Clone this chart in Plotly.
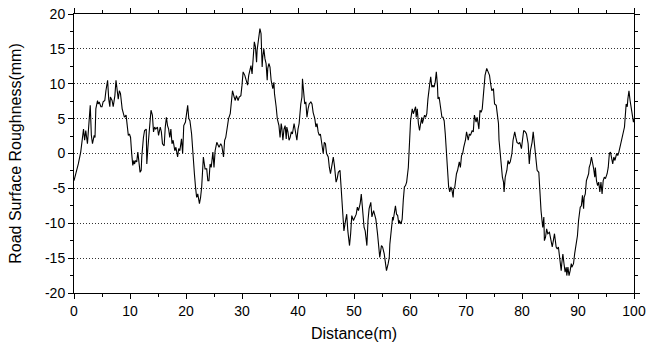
import plotly.graph_objects as go

distance_m = [
    0, 0.36, 0.77, 1.2, 1.4, 1.7, 1.9, 2.1, 2.4, 2.6, 2.9, 3.1, 3.3, 3.6, 3.75, 3.9, 4.2, 4.3, 4.5, 4.8,
    5.0, 5.2, 5.5, 5.7, 6.0, 6.2, 6.4, 6.5, 6.8, 7.0, 7.3, 7.5, 7.7, 7.9, 8.1, 8.3, 8.6, 8.8, 9.0, 9.3,
    9.5, 9.7, 9.9, 10.1, 10.3, 10.5, 10.7, 10.8, 11.0, 11.2, 11.4, 11.7, 11.8, 12.0, 12.1, 12.4, 12.6, 12.9, 13.0, 13.2,
    13.5, 13.75, 14.0, 14.2, 14.4, 14.6, 14.9, 15.1, 15.4, 15.6, 15.8, 16.1, 16.3, 16.5, 16.7, 16.9, 17.1, 17.3, 17.5, 17.7,
    18.0, 18.2, 18.5, 18.7, 18.9, 19.2, 19.4, 19.6, 19.9, 20.1, 20.3, 20.5, 20.7, 21.0, 21.2, 21.4, 21.5, 21.7, 21.9, 22.1,
    22.4, 22.6, 22.8, 23.1, 23.4, 23.7, 23.9, 24.1, 24.3, 24.5, 24.8, 25.0, 25.2, 25.5, 25.7, 25.9, 26.2, 26.4, 26.7, 26.9,
    27.1, 27.4, 27.6, 27.9, 28.1, 28.3, 28.6, 28.8, 29.0, 29.3, 29.5, 29.8, 30.0, 30.2, 30.5, 30.7, 31.0, 31.2, 31.4, 31.6,
    31.8, 32.0, 32.2, 32.4, 32.6, 32.7, 33.0, 33.2, 33.4, 33.6, 33.7, 33.9, 34.1, 34.3, 34.5, 34.6, 34.8, 35.0, 35.2, 35.5,
    35.7, 35.8, 36.1, 36.3, 36.6, 36.8, 37.0, 37.1, 37.3, 37.5, 37.7, 37.9, 38.0, 38.2, 38.4, 38.6, 38.8, 39.0, 39.3, 39.5,
    39.8, 40.0, 40.2, 40.5, 40.7, 40.8, 41.0, 41.2, 41.4, 41.6, 41.8, 42.0, 42.3, 42.5, 42.7, 43.0, 43.2, 43.4, 43.6, 43.8,
    44.0, 44.3, 44.5, 44.7, 44.9, 45.1, 45.4, 45.6, 45.8, 46.1, 46.3, 46.5, 46.8, 47.0, 47.2, 47.5,
    47.7, 47.9, 48.2, 48.5, 48.7, 48.9, 49.2, 49.4, 49.6, 49.9, 50.1, 50.4, 50.6, 50.8, 51.1, 51.3, 51.5, 51.8, 52.0, 52.3,
    52.5, 52.7, 53.0, 53.2, 53.5, 53.7, 53.9, 54.2, 54.4, 54.6, 54.9, 55.1, 55.4, 55.6, 55.8, 56.1, 56.3, 56.4, 56.7, 56.9,
    57.0, 57.2, 57.4, 57.6, 57.8, 58.0, 58.1, 58.4, 58.6, 58.8, 59.0, 59.2, 59.4, 59.7, 59.9, 60.1, 60.4, 60.6, 60.8, 61.0,
    61.1, 61.3, 61.5, 61.7, 61.9, 62.1, 62.2, 62.4, 62.6, 62.8, 63.0, 63.2, 63.3, 63.5, 63.7, 63.9, 64.1, 64.3, 64.5, 64.7,
    64.9, 65.0, 65.2, 65.5, 65.7, 65.9, 66.1, 66.3, 66.5, 66.7, 66.9, 67.1, 67.3, 67.5, 67.7, 67.8, 68.0, 68.3, 68.5, 68.8,
    69.0, 69.2, 69.4, 69.6, 69.9, 70.1, 70.4, 70.6, 70.8, 71.1, 71.3, 71.5, 71.8, 72.0, 72.3, 72.5,
    72.7, 72.9, 73.2, 73.4, 73.7, 73.9, 74.2, 74.4, 74.6, 74.9, 75.1, 75.4, 75.6, 75.8, 75.9, 76.1, 76.3, 76.5, 76.7, 76.8,
    77.0, 77.3, 77.5, 77.7, 77.9, 78.2, 78.4, 78.7, 78.9, 79.1, 79.4, 79.6, 79.9, 80.1, 80.3, 80.6, 80.8, 81.1, 81.3, 81.5,
    81.8, 82.0, 82.2, 82.5, 82.7, 83.0, 83.2, 83.4, 83.7, 83.9, 84.0, 84.2, 84.4, 84.6, 84.9, 85.1, 85.4, 85.6, 85.8, 86.1,
    86.3, 86.5, 86.8, 87.0, 87.1, 87.3, 87.5, 87.7, 87.9, 88.0, 88.2, 88.4, 88.6, 88.8, 88.9, 89.2, 89.4, 89.6, 89.9, 90.1,
    90.4, 90.6, 90.8, 91.0, 91.1, 91.3, 91.5, 91.7, 91.9, 92.0, 92.2, 92.4, 92.6, 92.8, 93.0, 93.1, 93.3, 93.5, 93.7, 93.9,
    94.1, 94.3, 94.5, 94.7, 94.9, 95.2, 95.4, 95.6, 95.8, 96.0, 96.2, 96.4, 96.6, 96.9, 97.1, 97.3, 97.6, 97.9, 98.1, 98.3,
    98.6, 98.8, 98.9, 99.1, 99.3, 99.5, 99.7, 99.9, 100.0,
]

roughness_mm = [
    -3.9, -2.9, -1.5, 0.2, 1.4, 3.5, 1.9, 3.3, 1.4, 4.3, 6.9, 2.6, 1.4, 2.6, 2.3, 6.4, 7.6, 7.1, 7.4, 6.7,
    6.7, 7.4, 7.6, 9.0, 10.5, 7.8, 6.7, 8.1, 7.6, 6.7, 8.3, 10.5, 9.3, 7.8, 9.0, 8.6, 6.4, 5.9, 5.2, 5.5,
    4.3, 2.6, 2.8, 2.3, 0.0, -1.7, -1.0, -1.5, -1.0, -1.2, 0.2, -1.5, -2.7, -2.4, -0.5, 2.3, 3.3, 3.5, -1.5, 0.9,
    3.8, 6.2, 5.5, 3.1, 3.8, 3.5, 3.8, 2.6, 3.8, 3.1, 1.4, 1.1, 3.8, 5.2, 4.0, 3.5, 2.3, 3.5, 1.4, 1.9,
    0.4, 0.9, -0.5, 0.7, 0.4, 2.1, 0.0, 4.0, 4.5, 5.7, 6.9, 5.0, 4.7, 2.8, 0.0, -1.5, -2.9, -4.8, -6.3, -5.8,
    -7.2, -6.3, -4.8, -0.5, -2.2, -2.2, -3.9, -3.9, -1.5, -2.0, 0.2, -2.0, 0.4, 1.6, 1.1, 0.9, 1.4, 1.1, -0.5, 1.9,
    2.3, 3.8, 5.0, 5.7, 7.1, 9.0, 8.1, 7.6, 8.3, 7.6, 8.1, 8.3, 9.8, 11.7, 11.2, 10.7, 9.8, 11.2, 11.9, 12.6,
    11.4, 13.8, 16.0, 15.3, 13.1, 14.8, 16.7, 17.9, 17.2, 12.4, 13.8, 15.0, 13.6, 12.9, 10.5, 12.2, 12.9, 12.4, 10.5, 9.3,
    10.2, 8.6, 6.7, 5.0, 4.0, 2.3, 4.3, 3.8, 1.9, 3.5, 4.0, 2.1, 3.8, 3.1, 1.9, 2.3, 3.1, 2.8, 4.3, 3.1,
    1.9, 3.5, 4.3, 7.1, 8.1, 10.7, 9.0, 7.1, 7.4, 5.2, 6.4, 7.1, 7.4, 7.1, 5.9, 5.0, 3.8, 4.3, 3.1, 2.6,
    2.8, 0.9, 0.0, 1.6, 1.4, 0.0, -0.5, -2.0, -2.9, -1.5, -0.5, -1.7, -4.1, -3.6, -2.7, -2.4,
    -4.8, -7.7, -11.1, -9.6, -8.7, -11.1, -13.2, -11.5, -8.9, -9.6, -9.1, -8.7, -7.7, -8.2, -7.2, -5.8, -7.7, -10.6, -11.1, -13.2,
    -9.6, -7.9, -7.0, -9.1, -8.2, -8.7, -9.4, -11.5, -13.4, -14.9, -13.2, -13.4, -14.4, -15.6, -16.8, -15.8, -14.9, -13.0, -10.1, -9.1,
    -9.6, -8.7, -7.5, -8.7, -8.9, -10.1, -9.6, -10.1, -9.4, -6.7, -4.8, -4.6, -4.1, -2.0, 1.9, 4.7, 6.4, 5.7, 6.2, 6.7,
    5.2, 6.4, 4.3, 3.3, 4.3, 5.2, 4.3, 5.0, 5.5, 5.2, 5.7, 7.8, 9.0, 9.8, 11.0, 9.5, 9.8, 9.5, 10.2, 11.7,
    9.8, 7.8, 8.1, 6.7, 5.2, 5.2, 4.7, 2.8, 0.4, -2.0, -4.8, -5.5, -4.8, -5.3, -6.3, -5.1, -4.8, -2.9, -2.4, -1.2,
    -2.0, -0.3, 0.0, 0.9, 1.9, 3.1, 1.9, 2.8, 2.6, 3.3, 3.1, 5.5, 4.5, 5.2, 3.5, 6.2,
    5.9, 6.4, 8.8, 11.2, 12.2, 11.7, 11.2, 10.0, 9.0, 9.3, 7.1, 6.9, 5.7, 4.3, 1.9, 0.0, -2.0, -3.4, -4.1, -5.5,
    -3.4, -2.4, -1.0, -1.5, -1.2, 0.0, 1.9, 3.1, 2.3, 1.6, 1.4, 1.6, 0.7, 1.9, 3.3, 3.1, 2.8, 1.4, -1.5, 0.4,
    1.6, 3.1, 1.6, -0.5, -2.4, -2.7, -6.7, -8.2, -10.6, -9.1, -12.5, -12.0, -10.8, -11.5, -11.3, -12.0, -13.4, -12.5, -11.5, -13.4,
    -13.7, -13.4, -15.8, -16.8, -15.8, -14.4, -15.8, -17.0, -16.3, -17.5, -16.3, -17.5, -16.8, -15.8, -16.3, -15.8, -14.4, -13.4, -11.8, -9.6,
    -7.7, -7.5, -6.0, -7.9, -6.3, -5.8, -3.9, -3.4, -2.9, -2.0, -1.5, -0.5, -1.2, -2.2, -3.4, -2.0, -3.9, -4.6, -4.1, -5.5,
    -4.1, -5.8, -3.9, -3.4, -3.6, -2.9, -2.0, 0.0, 0.2, -0.5, -1.5, -0.5, -1.0, 0.0, -0.3, 0.2, 1.4, 2.3, 3.1, 3.8,
    7.1, 6.7, 7.8, 9.0, 7.6, 6.7, 5.5, 4.5, 5.0,
]

y_ticks = [-20, -15, -10, -5, 0, 5, 10, 15, 20]
x_ticks = [0, 10, 20, 30, 40, 50, 60, 70, 80, 90, 100]

fig = go.Figure()
fig.add_trace(go.Scatter(
    x=distance_m, y=roughness_mm, mode="lines",
    line=dict(color="black", width=1.1),
    showlegend=False, hoverinfo="skip",
))

axis_font = dict(family="Liberation Sans, Arial, sans-serif", size=14, color="black")

fig.update_layout(
    width=649, height=352,
    margin=dict(l=74, r=15, t=14, b=59),
    paper_bgcolor="white", plot_bgcolor="white",
    font=axis_font,
)
fig.update_xaxes(
    range=[0, 100], tickvals=x_ticks, ticktext=[str(v) for v in x_ticks],
    showline=True, linecolor="black", linewidth=1, mirror="ticks",
    ticks="outside", ticklen=5, tickwidth=1, tickcolor="black",
    minor=dict(ticks="outside", dtick=5, ticklen=3, tickcolor="black", showgrid=False),
    showgrid=False, zeroline=False, automargin=False,
    title=dict(text="Distance(m)", font=dict(size=16), standoff=10),
    tickfont=dict(size=14),
)
fig.update_yaxes(
    range=[-20, 20], tickvals=y_ticks, ticktext=[str(v) for v in y_ticks],
    showline=True, linecolor="black", linewidth=1, mirror="ticks",
    ticks="outside", ticklen=5, tickwidth=1, tickcolor="black",
    minor=dict(ticks="outside", dtick=2.5, ticklen=3, tickcolor="black", showgrid=False),
    showgrid=True, gridcolor="#333333", griddash="1px,2px", gridwidth=1,
    zeroline=False, automargin=False,
    title=dict(text="Road Surface Roughness(mm)", font=dict(size=16), standoff=19),
    tickfont=dict(size=14),
)

fig.write_html(
    "out.html",
    config={"displayModeBar": False},
    post_script="document.body.style.margin='0';document.body.style.overflow='hidden';",
)
